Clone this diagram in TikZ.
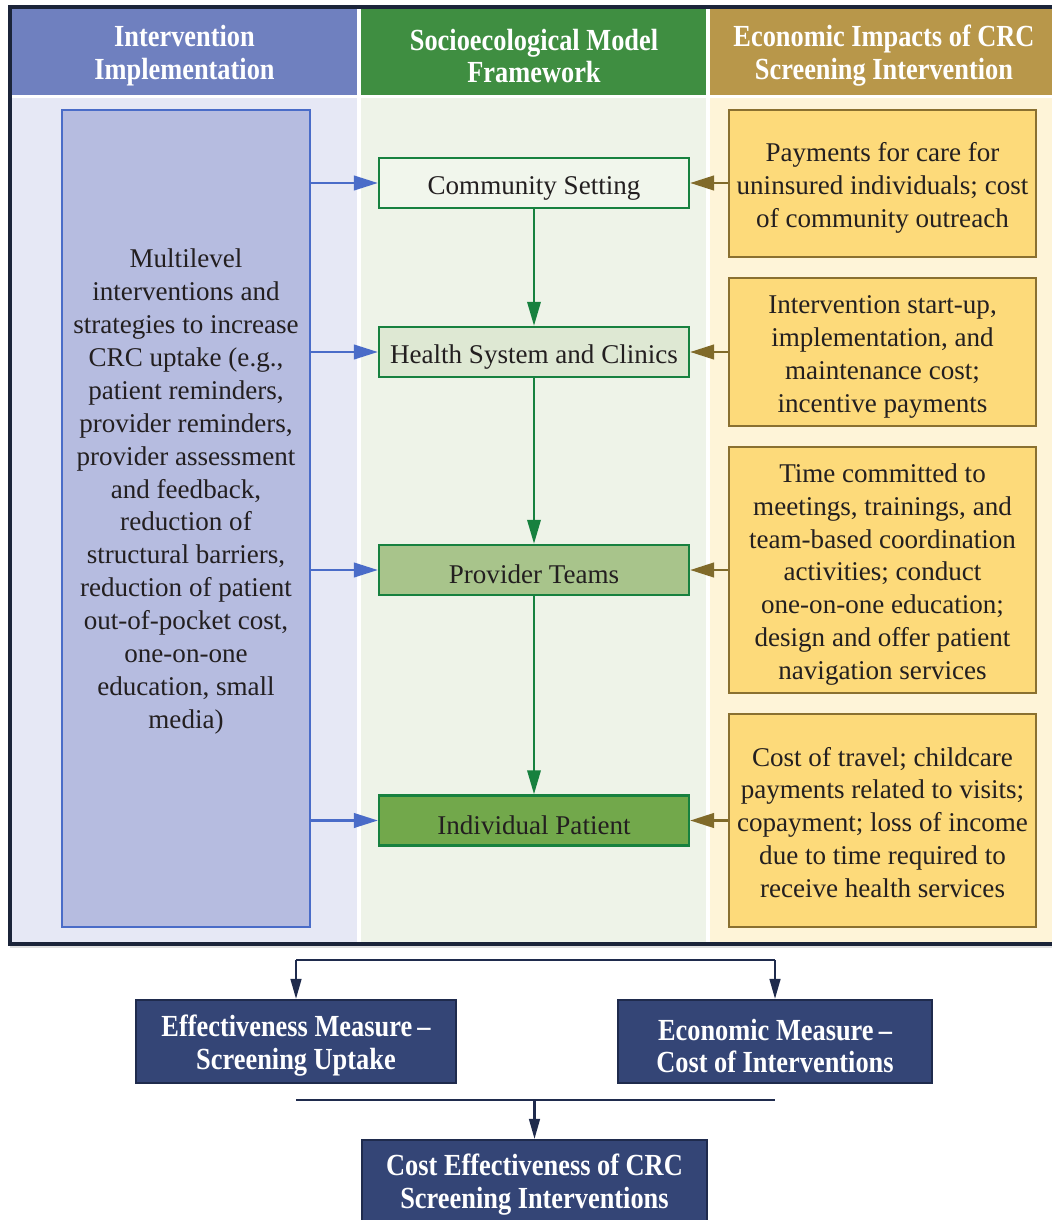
\documentclass[tikz,border=0pt]{standalone}
\usepackage{fontspec}
\setmainfont{Liberation Serif}
\newfontfamily\hdfont[FakeStretch=0.86]{Liberation Serif}
\usetikzlibrary{arrows.meta}
\definecolor{hdblue}{HTML}{6F80BF}
\definecolor{hdgreen}{HTML}{3F8E41}
\definecolor{hdtan}{HTML}{B8974A}
\definecolor{bgblue}{HTML}{E6E8F5}
\definecolor{bggreen}{HTML}{EEF3E8}
\definecolor{bgtan}{HTML}{FEF4D8}
\definecolor{framec}{HTML}{1B2439}
\definecolor{lbfill}{HTML}{B6BCE0}
\definecolor{lbline}{HTML}{4A6CC8}
\definecolor{gline}{HTML}{17813F}
\definecolor{gfa}{HTML}{F1F6EC}
\definecolor{gfb}{HTML}{DEE8D3}
\definecolor{gfc}{HTML}{A8C48B}
\definecolor{gfd}{HTML}{72A84B}
\definecolor{yfill}{HTML}{FDDA7A}
\definecolor{yline}{HTML}{8A7030}
\definecolor{brarrow}{HTML}{806A2A}
\definecolor{navy}{HTML}{344576}
\definecolor{navyline}{HTML}{1F2B4D}
\definecolor{txtc}{HTML}{231F20}
\begin{document}
\begin{tikzpicture}[x=0.75pt,y=-0.75pt,
  txt/.style={font=\fontsize{20.3}{24.7}\selectfont, align=center, text=txtc},
  hd/.style={font=\hdfont\bfseries\fontsize{23}{24.7}\selectfont, text=white, align=center},
  lowtext/.style={execute at begin node={\rule{0pt}{21pt}}},
  leftbox/.style={draw=lbline, fill=lbfill, line width=1.6pt, minimum width=186pt, minimum height=612.75pt, inner sep=0pt},
  gbox/.style={draw=gline, line width=1.8pt, minimum width=232.5pt, minimum height=37.5pt, inner sep=0pt, txt, lowtext},
  ybox/.style={draw=yline, fill=yfill, line width=1.6pt, minimum width=230.25pt, inner sep=0pt},
  nbox/.style={draw=navyline, fill=navy, line width=1.6pt, minimum height=62.25pt, inner sep=0pt},
  barrow/.style={draw=lbline, line width=1.6pt, -{Triangle[length=18pt,width=11pt]}},
  brar/.style={draw=brarrow, line width=1.8pt, -{Triangle[length=18pt,width=11pt]}},
  garrow/.style={draw=gline, line width=1.8pt, -{Triangle[length=18pt,width=10pt]}},
  narrow/.style={draw=navyline, line width=1.8pt},
  narrowtip/.style={narrow, -{Triangle[length=15pt,width=8pt]}}
]
\useasboundingbox (0,0) rectangle (1052,1220);
\fill[white] (0,0) rectangle (1052,1220);
% column backgrounds
\fill[hdblue] (12,9) rectangle (357,95);
\fill[hdgreen] (361,9) rectangle (706,95);
\fill[hdtan] (710,9) rectangle (1065,95);
\fill[bgblue] (12,98) rectangle (357,942);
\fill[bggreen] (361,98) rectangle (706,942);
\fill[bgtan] (710,98) rectangle (1065,942);
\fill[black!12] (10,946) rectangle (1065,948);
\draw[framec, line width=3pt] (10,7) rectangle (1065,944);
% headers
\node[hd] (h1) at (184.5,56) {Intervention\\Implementation};
\node[hd] (h2) at (534,56) {Socioecological Model\\Framework};
\node[hd] (h3) at (884,56) {Economic Impacts of CRC\\Screening Intervention};
% left box
\node[leftbox] (lb) at (186,518.5) {};
\node[txt] (lt) at (186,491.5) {Multilevel\\interventions and\\strategies to increase\\CRC uptake (e.g.,\\patient reminders,\\provider reminders,\\provider assessment\\and feedback,\\reduction of\\structural barriers,\\reduction of patient\\out-of-pocket cost,\\one-on-one\\education, small\\media)};
% green boxes
\node[gbox, fill=gfa] (cs) at (534,183) {Community Setting};
\node[gbox, fill=gfb] (hs) at (534,352) {Health System and Clinics};
\node[gbox, fill=gfc] (pt) at (534,570) {Provider Teams};
\node[gbox, fill=gfd] (ip) at (534,820.5) {Individual Patient};
% right boxes
\node[ybox, minimum height=110.25pt] (r1) at (882.5,183.5) {};
\node[txt] (r1t) at (882.5,188) {Payments for care for\\uninsured individuals; cost\\of community outreach};
\node[ybox, minimum height=111pt] (r2) at (882.5,352) {};
\node[txt] (r2t) at (882.5,357) {Intervention start-up,\\implementation, and\\maintenance cost;\\incentive payments};
\node[ybox, minimum height=184.5pt] (r3) at (882.5,570) {};
\node[txt] (r3t) at (882.5,574.5) {Time committed to\\meetings, trainings, and\\team-based coordination\\activities; conduct\\one-on-one education;\\design and offer patient\\navigation services};
\node[ybox, minimum height=159.75pt] (r4) at (882.5,820.5) {};
\node[txt] (r4t) at (882.5,822.5) {Cost of travel; childcare\\payments related to visits;\\copayment; loss of income\\due to time required to\\receive health services};
% arrows
\foreach \n in {cs,hs,pt,ip}{\draw[barrow] (lb.east |- \n.west) -- (\n.west);}
\draw[brar] (r1.west |- cs.east) -- (cs.east);
\draw[brar] (r2.west |- hs.east) -- (hs.east);
\draw[brar] (r3.west |- pt.east) -- (pt.east);
\draw[brar] (r4.west |- ip.east) -- (ip.east);
\draw[garrow] (cs.south) -- (hs.north);
\draw[garrow] (hs.south) -- (pt.north);
\draw[garrow] (pt.south) -- (ip.north);
% bottom
\node[nbox, minimum width=240pt] (eff) at (296,1041.5) {};
\node[hd] (efft) at (296,1046) {Effectiveness Measure\,–\\Screening Uptake};
\node[nbox, minimum width=235.5pt] (econ) at (775,1041.5) {};
\node[hd] (econt) at (775,1046) {Economic Measure\,–\\Cost of Interventions};
\node[nbox, minimum width=258.75pt] (cost) at (534.5,1181.5) {};
\node[hd] (costt) at (534.5,1185) {Cost Effectiveness of CRC\\Screening Interventions};
\coordinate (s1) at (296,960);
\coordinate (s2) at (775,960);
\draw[narrow] (s1) -- (s2);
\draw[narrowtip] (s1) -- (eff.north);
\draw[narrowtip] (s2) -- (econ.north);
\coordinate (m1) at (296,1100);
\coordinate (m2) at (775,1100);
\coordinate (mm) at (534.5,1100);
\draw[narrow] (m1) -- (m2);
\draw[narrowtip] (mm) -- (cost.north);
\end{tikzpicture}
\end{document}
